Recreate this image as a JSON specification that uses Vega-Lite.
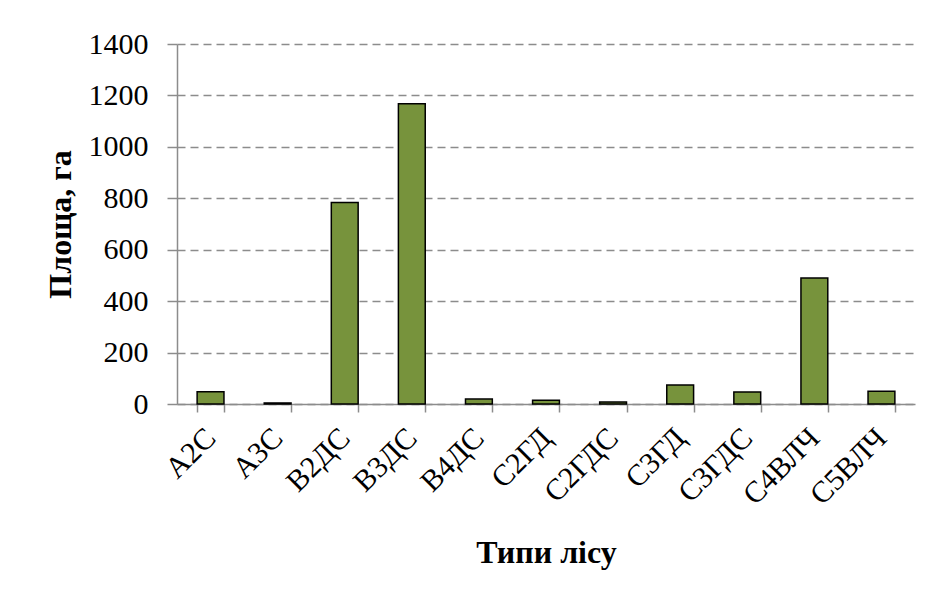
{
  "$schema": "https://vega.github.io/schema/vega-lite/v6.json",
  "autosize": "none",
  "width": 738,
  "height": 360,
  "padding": {"left": 177, "top": 44, "right": 17, "bottom": 187},
  "background": "white",
  "data": {
    "values": [
      {"type": "А2С", "area": 48},
      {"type": "А3С", "area": 4},
      {"type": "В2ДС", "area": 784},
      {"type": "В3ДС", "area": 1168},
      {"type": "В4ДС", "area": 19},
      {"type": "С2ГД", "area": 15},
      {"type": "С2ГДС", "area": 8},
      {"type": "С3ГД", "area": 74},
      {"type": "С3ГДС", "area": 47},
      {"type": "С4ВЛЧ", "area": 490},
      {"type": "С5ВЛЧ", "area": 50}
    ]
  },
  "mark": {"type": "bar", "fill": "#77933C", "stroke": "#000000", "strokeWidth": 1.5},
  "encoding": {
    "x": {
      "field": "type",
      "type": "nominal",
      "sort": null,
      "scale": {"paddingInner": 0.6, "paddingOuter": 0.3},
      "axis": {
        "title": "Типи лісу",
        "titleFont": "Liberation Serif",
        "titleFontSize": 32,
        "titleFontWeight": "bold",
        "titleColor": "#000000",
        "titleBaseline": "middle",
        "titleY": 148,
        "labelFont": "Liberation Serif",
        "labelFontSize": 30,
        "labelColor": "#000000",
        "labelAngle": -45,
        "labelAlign": "right",
        "labelBaseline": "middle",
        "labelPadding": 21,
        "labelOverlap": false,
        "domainColor": "#8c8c8c",
        "domainWidth": 1.5,
        "tickColor": "#8c8c8c",
        "tickWidth": 1.5,
        "tickSize": 8,
        "tickBand": "extent",
        "grid": false
      }
    },
    "y": {
      "field": "area",
      "type": "quantitative",
      "scale": {"domain": [0, 1400], "nice": false},
      "axis": {
        "title": "Площа, га",
        "titleFont": "Liberation Serif",
        "titleFontSize": 32,
        "titleFontWeight": "bold",
        "titleColor": "#000000",
        "titleAngle": -90,
        "titleAlign": "center",
        "titleBaseline": "middle",
        "titleX": -117,
        "titleY": 180,
        "values": [0, 200, 400, 600, 800, 1000, 1200, 1400],
        "format": "d",
        "labelFont": "Liberation Serif",
        "labelFontSize": 30,
        "labelColor": "#000000",
        "labelPadding": 19,
        "domainColor": "#8c8c8c",
        "domainWidth": 1.5,
        "tickColor": "#8c8c8c",
        "tickWidth": 1.5,
        "tickSize": 10,
        "grid": true,
        "gridColor": "#8c8c8c",
        "gridWidth": 1.5,
        "gridDash": [8, 5]
      }
    }
  },
  "config": {
    "view": {"stroke": null}
  }
}
